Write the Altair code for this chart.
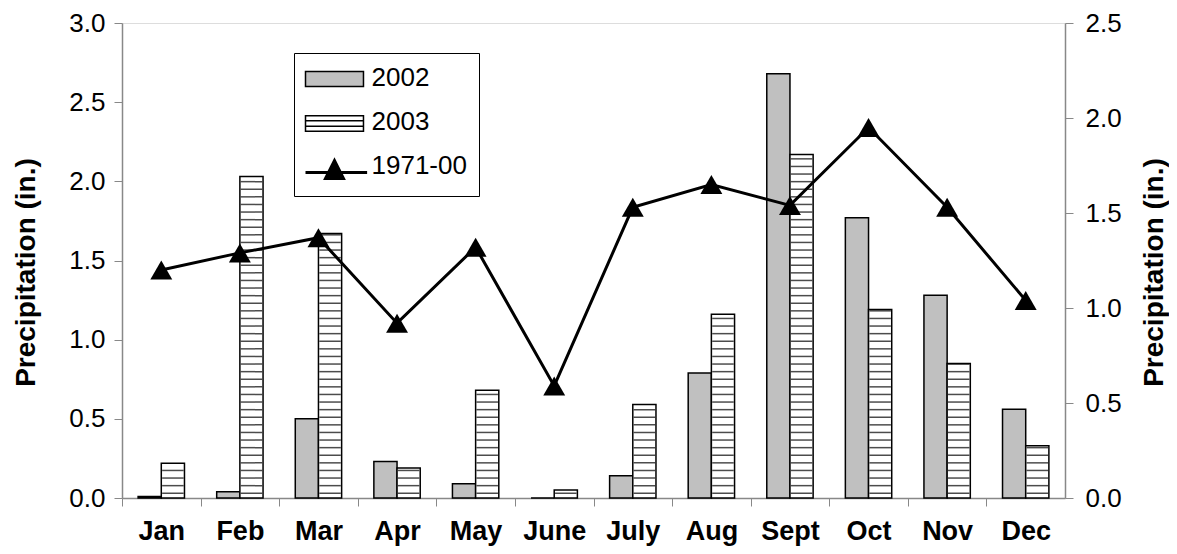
import altair as alt
import pandas as pd

months = ["Jan", "Feb", "Mar", "Apr", "May", "June", "July", "Aug", "Sept", "Oct", "Nov", "Dec"]
precip_2002 = [0.01, 0.04, 0.50, 0.23, 0.09, 0.00, 0.14, 0.79, 2.68, 1.77, 1.28, 0.56]
precip_2003 = [0.22, 2.03, 1.67, 0.19, 0.68, 0.05, 0.59, 1.16, 2.17, 1.19, 0.85, 0.33]
normal_1971_00 = [1.20, 1.29, 1.37, 0.92, 1.32, 0.59, 1.53, 1.65, 1.54, 1.95, 1.53, 1.04]
series_names = ["2002", "2003", "1971-00"]
left_ticks = [0.0, 0.5, 1.0, 1.5, 2.0, 2.5, 3.0]
right_ticks = [0.0, 0.5, 1.0, 1.5, 2.0, 2.5]

bars_df = pd.DataFrame({
    "month": months * 2,
    "series": ["2002"] * 12 + ["2003"] * 12,
    "value": precip_2002 + precip_2003,
})
line_df = pd.DataFrame({"month": months, "value": normal_1971_00})

FONT = "Liberation Sans, Arial, sans-serif"
HALF_STEP = 943 / 12 / 2

x_enc = alt.X(
    "month:N", sort=months,
    scale=alt.Scale(paddingInner=0.41, paddingOuter=0.205),
    axis=alt.Axis(title=None, labelAngle=0, labelFont=FONT, labelFontWeight="bold",
                  labelFontSize=27, labelPadding=12, tickSize=8, tickWidth=1,
                  tickOffset=-HALF_STEP, labelOffset=HALF_STEP, domainWidth=1.5),
)
xoff_enc = alt.XOffset("series:N", scale=alt.Scale(domain=["2002", "2003"], paddingInner=0, paddingOuter=0))

shape_expr = (
    "datum.value == '2002' ? 'M-1,-0.46H3.46V0.69H-1Z' : "
    "datum.value == '2003' ? 'M-1,-0.45H3.46V0.75H-1Z M-1,-0.06H3.46 M-1,0.37H3.46' : "
    "'M-1,0.54H3.74 M0.54,1.0L1.23,-0.38L1.92,1.0Z'"
)

bars = alt.Chart(bars_df).mark_bar(stroke="black", strokeWidth=1.5).encode(
    x=x_enc,
    xOffset=xoff_enc,
    y=alt.Y("value:Q", scale=alt.Scale(domain=[0, 3]),
            axis=alt.Axis(values=left_ticks, format=".1f", grid=False, tickSize=8, tickWidth=1,
                          labelFont=FONT, labelFontSize=26, labelPadding=9, domainWidth=1.5,
                          title="Precipitation (in.)", titleFont=FONT, titleFontSize=28,
                          titleFontWeight="bold", titleAngle=270, titleX=-88, titleY=249,
                          titleBaseline="alphabetic", titleAlign="center")),
    fill=alt.Fill("series:N",
                  scale=alt.Scale(domain=series_names, range=["#c0c0c0", "#ffffff", "#000000"]),
                  legend=alt.Legend(title=None, orient="none", legendX=172, legendY=30,
                                    direction="vertical",
                                    symbolType={"expr": shape_expr},
                                    symbolSize=676, symbolStrokeColor="black",
                                    symbolStrokeWidth={"expr": "datum.value == '1971-00' ? 3 : 1.5"},
                                    labelFont=FONT, labelFontSize=26, labelOffset=40,
                                    labelColor="black", labelBaseline="middle",
                                    rowPadding=18, padding=11.5, strokeColor="black",
                                    fillColor="white")),
)

stripes = alt.Chart(bars_df).transform_filter(
    "datum.series == '2003'"
).transform_calculate(
    stripe="sequence(0.03, datum.value, 0.048)"
).transform_flatten(["stripe"]).mark_tick(color="black", thickness=1.5, size=21.5).encode(
    x=x_enc,
    xOffset=xoff_enc,
    y=alt.Y("stripe:Q", scale=alt.Scale(domain=[0, 3]), axis=None),
)

line = alt.Chart(line_df).mark_line(
    color="black", strokeWidth=3,
    point=alt.OverlayMarkDef(shape="triangle-up", size=480, filled=True, color="black", opacity=1),
).encode(
    x=x_enc,
    y=alt.Y("value:Q", scale=alt.Scale(domain=[0, 2.5]),
            axis=alt.Axis(orient="right", values=right_ticks, format=".1f", grid=False,
                          tickSize=8, tickWidth=1, labelFont=FONT, labelFontSize=26,
                          labelPadding=12, domainWidth=1.5,
                          title="Precipitation (in.)", titleFont=FONT, titleFontSize=28,
                          titleFontWeight="bold", titleAngle=270, titleX=97, titleY=249,
                          titleBaseline="alphabetic", titleAlign="center")),
)

chart = alt.layer(bars, stripes, line).resolve_scale(y="independent").properties(
    width=943, height=475,
    padding={"left": 114, "top": 15, "right": 104, "bottom": 48},
    autosize=alt.AutoSizeParams(type="none"),
).configure_view(stroke="black", strokeWidth=1.5).configure_axis(
    labelColor="black", tickColor="black", domainColor="black", titleColor="black"
).configure(background="white")

chart.save("out.html", embed_options={"renderer": "svg", "actions": False})
